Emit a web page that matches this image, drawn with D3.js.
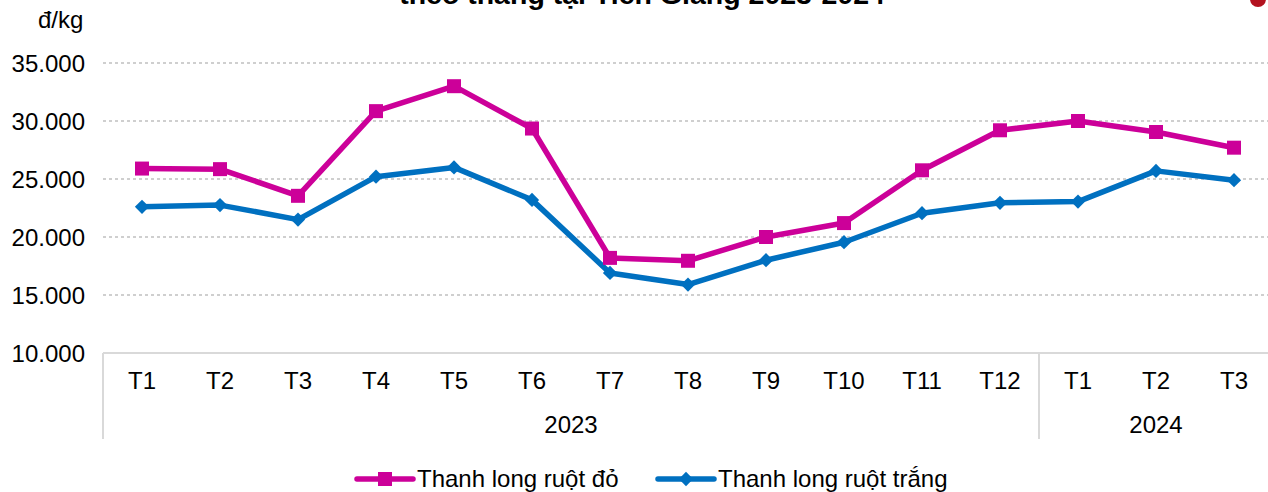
<!DOCTYPE html>
<html>
<head>
<meta charset="utf-8">
<script src="https://cdn.jsdelivr.net/npm/d3@7"></script>
<style>
  body { margin: 0; background: #fff; }
  svg { display: block; font-family: "Liberation Sans", Arial, sans-serif; }
  .axis path, .axis line { display: none; }
  .axis text { font-size: 24px; fill: #000; }
</style>
</head>
<body>
<div id="chart"></div>
<script>
// chart data
var months = ["T1","T2","T3","T4","T5","T6","T7","T8","T9","T10","T11","T12","T1","T2","T3"];
var years = [{label: "2023", from: 0, to: 12}, {label: "2024", from: 12, to: 15}];
var redFlesh = [25900, 25850, 23550, 30850, 33000, 29350, 18200, 17950, 20000, 21200, 25750, 29200, 30000, 29050, 27700];
var whiteFlesh = [22600, 22750, 21500, 25200, 26000, 23200, 16900, 15900, 18000, 19550, 22050, 22950, 23050, 25700, 24900];
var yTicks = [10000, 15000, 20000, 25000, 30000, 35000];
var seriesNames = ["Thanh long ruột đỏ", "Thanh long ruột trắng"];

var W = 1268, H = 492;
var margin = {top: 63, left: 103, bottom: 139};
var plotRight = 1273;

var svg = d3.select("#chart").append("svg")
    .attr("width", W)
    .attr("height", H);

var x = d3.scaleBand()
    .domain(d3.range(months.length))
    .range([margin.left, plotRight]);

var y = d3.scaleLinear()
    .domain([10000, 35000])
    .range([H - margin.bottom, margin.top]);

var vn = d3.formatLocale({decimal: ",", thousands: ".", grouping: [3], currency: ["", ""]});
var fmt = vn.format(",.0f");

// title (cut at top of picture, as in the source) and logo dot
svg.append("text")
    .attr("x", 642)
    .attr("y", 4)
    .attr("text-anchor", "middle")
    .style("font-size", "28.5px")
    .style("font-weight", "bold")
    .text("theo tháng tại Tiền Giang 2023-2024");

svg.append("circle")
    .attr("cx", 1258)
    .attr("cy", -1)
    .attr("r", 8)
    .style("fill", "#b3121f");

// unit label
svg.append("text")
    .attr("x", 38)
    .attr("y", 28)
    .style("font-size", "24px")
    .text("đ/kg");

// dotted gridlines
svg.selectAll(".grid")
    .data(yTicks.filter(function(d) { return d > 10000; }))
  .enter().append("line")
    .attr("class", "grid")
    .attr("x1", margin.left)
    .attr("x2", W)
    .attr("y1", function(d) { return y(d); })
    .attr("y2", function(d) { return y(d); })
    .style("stroke", "#cfcfcf")
    .style("stroke-width", 2)
    .style("stroke-dasharray", "3,3");

// y axis
svg.append("g")
    .attr("class", "axis")
    .attr("transform", "translate(" + margin.left + ",0)")
    .call(d3.axisLeft(y).tickValues(yTicks).tickSize(0).tickPadding(18).tickFormat(fmt))
    .selectAll("text")
    .attr("dy", "0.35em");

// base line and category separators
var y0 = y(10000);
svg.append("line")
    .attr("x1", margin.left).attr("x2", W)
    .attr("y1", y0).attr("y2", y0)
    .style("stroke", "#d9d9d9").style("stroke-width", 2);

var seps = [0, 12];
svg.selectAll(".sep")
    .data(seps)
  .enter().append("line")
    .attr("class", "sep")
    .attr("x1", function(d) { return x(d); })
    .attr("x2", function(d) { return x(d); })
    .attr("y1", y0)
    .attr("y2", y0 + 86)
    .style("stroke", "#d9d9d9").style("stroke-width", 2);

// month labels
svg.append("g")
    .attr("class", "axis")
    .attr("transform", "translate(0," + y0 + ")")
    .call(d3.axisBottom(x).tickSize(0).tickPadding(19).tickFormat(function(i) { return months[i]; }));

// year labels
svg.selectAll(".year")
    .data(years)
  .enter().append("text")
    .attr("class", "year")
    .attr("x", function(d) { return (x(d.from) + (d.to < months.length ? x(d.to) : plotRight)) / 2; })
    .attr("y", y0 + 80)
    .attr("text-anchor", "middle")
    .style("font-size", "24px")
    .text(function(d) { return d.label; });

// lines
var line = d3.line()
    .x(function(d, i) { return x(i) + x.bandwidth() / 2; })
    .y(function(d) { return y(d); });

var red = "#cc0099", blue = "#0070c0";

svg.append("path")
    .datum(whiteFlesh)
    .attr("d", line)
    .style("fill", "none")
    .style("stroke", blue)
    .style("stroke-width", 5.5)
    .style("stroke-linejoin", "round");

svg.append("path")
    .datum(redFlesh)
    .attr("d", line)
    .style("fill", "none")
    .style("stroke", red)
    .style("stroke-width", 5.5)
    .style("stroke-linejoin", "round");

var diamond = d3.symbol().type(d3.symbolDiamond2).size(130);
var square = d3.symbol().type(d3.symbolSquare).size(196);

svg.selectAll(".dw")
    .data(whiteFlesh)
  .enter().append("path")
    .attr("class", "dw")
    .attr("d", diamond)
    .attr("transform", function(d, i) { return "translate(" + (x(i) + x.bandwidth() / 2) + "," + y(d) + ")"; })
    .style("fill", blue);

svg.selectAll(".sr")
    .data(redFlesh)
  .enter().append("path")
    .attr("class", "sr")
    .attr("d", square)
    .attr("transform", function(d, i) { return "translate(" + (x(i) + x.bandwidth() / 2) + "," + y(d) + ")"; })
    .style("fill", red);

// legend
var legend = [
  {name: seriesNames[0], color: red, sym: square, x: 357},
  {name: seriesNames[1], color: blue, sym: diamond, x: 658}
];
var lg = svg.selectAll(".legend")
    .data(legend)
  .enter().append("g")
    .attr("class", "legend")
    .attr("transform", function(d) { return "translate(" + d.x + ",479)"; });

lg.append("line")
    .attr("x1", 0).attr("x2", 56)
    .style("stroke", function(d) { return d.color; })
    .style("stroke-width", 5.5)
    .style("stroke-linecap", "round");

lg.append("path")
    .attr("d", function(d) { return d.sym(); })
    .attr("transform", "translate(28,0)")
    .style("fill", function(d) { return d.color; });

lg.append("text")
    .attr("x", 60)
    .attr("y", 8)
    .style("font-size", "24px")
    .text(function(d) { return d.name; });
</script>
</body>
</html>
